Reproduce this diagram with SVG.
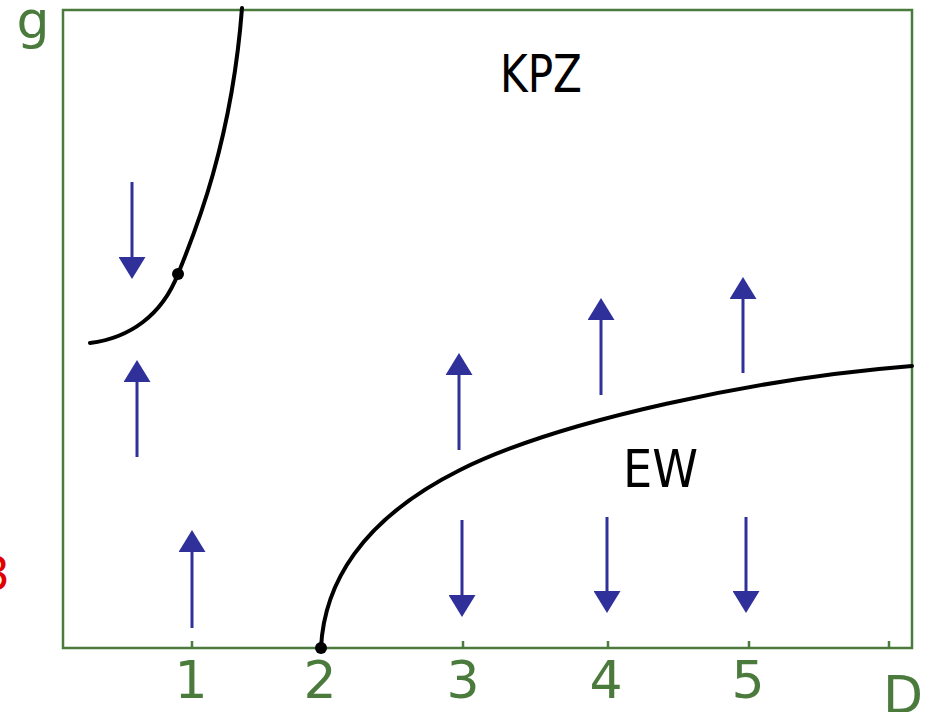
<svg xmlns="http://www.w3.org/2000/svg" width="926" height="712" viewBox="0 0 926 712">
<style>
.frame{fill:none;stroke:#4a7a3c;stroke-width:2.5}
.tick{stroke:#4a7a3c;stroke-width:2.5}
.ax{font-family:"DejaVu Sans",Verdana,sans-serif;font-size:52px;fill:#4a7a3c;text-anchor:middle}
.lbl{font-family:"DejaVu Sans",Verdana,sans-serif;font-size:52px;fill:#000}
.curve{fill:none;stroke:#000;stroke-width:4;stroke-linecap:round}
.flow{stroke:#30309a;stroke-width:3;marker-end:url(#ah)}
</style>
<defs>
<marker id="ah" viewBox="0 0 22 27" refX="17" refY="13.5" markerWidth="22" markerHeight="27" markerUnits="userSpaceOnUse" orient="auto">
<path d="M0,0 L22,13.5 L0,27 Z" fill="#30309a"/>
</marker>
</defs>
<rect width="926" height="712" fill="#fff"/>
<g id="axes">
<path class="frame" d="M63,10 H912 V648 H63 Z"/>
<line class="tick" x1="192" y1="641" x2="192" y2="648"/>
<line class="tick" x1="321" y1="641" x2="321" y2="648"/>
<line class="tick" x1="463" y1="641" x2="463" y2="648"/>
<line class="tick" x1="608" y1="641" x2="608" y2="648"/>
<line class="tick" x1="749" y1="641" x2="749" y2="648"/>
<line class="tick" x1="889" y1="641" x2="889" y2="648"/>
<text class="ax" x="33" y="38">g</text>
<text class="ax" x="191" y="698">1</text>
<text class="ax" x="320" y="698">2</text>
<text class="ax" x="463" y="698">3</text>
<text class="ax" x="606" y="698">4</text>
<text class="ax" x="748" y="698">5</text>
<text class="ax" x="903" y="713">D</text>
<text x="10" y="590" style="font-family:'DejaVu Sans',Verdana,sans-serif;font-size:46px;fill:#e00000;text-anchor:end">3</text>
</g>
<g id="KPZ"><text class="lbl" x="500" y="92" textLength="82" lengthAdjust="spacingAndGlyphs">KPZ</text></g>
<g id="EW"><text class="lbl" x="623" y="487" textLength="75" lengthAdjust="spacingAndGlyphs">EW</text></g>
<g id="curve-upper">
<path class="curve" d="M90,343 C130,338 162,315 178,274 C196,230 232,140 242,8"/>
<circle cx="178" cy="274" r="6"/>
</g>
<g id="curve-lower">
<path class="curve" d="M321,648 C324,585 360,520 460,470 C560,420 760,378 912,366"/>
<circle cx="321" cy="648" r="6"/>
</g>
<g id="connectors">
<line class="flow" x1="132" y1="182" x2="132" y2="274"/>
<line class="flow" x1="137" y1="457" x2="137" y2="365"/>
<line class="flow" x1="192" y1="628" x2="192" y2="535"/>
<line class="flow" x1="459" y1="450" x2="459" y2="358"/>
<line class="flow" x1="462" y1="520" x2="462" y2="612"/>
<line class="flow" x1="601" y1="395" x2="601" y2="303"/>
<line class="flow" x1="743" y1="373" x2="743" y2="282"/>
<line class="flow" x1="607" y1="517" x2="607" y2="608"/>
<line class="flow" x1="746" y1="517" x2="746" y2="608"/>
</g>
</svg>
